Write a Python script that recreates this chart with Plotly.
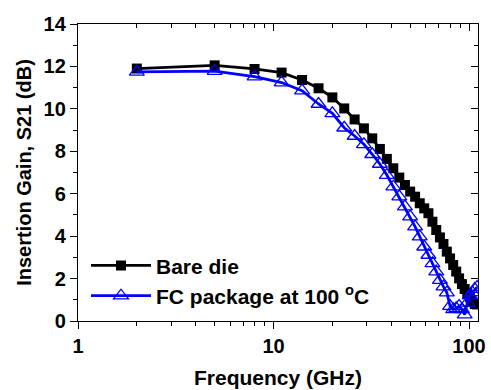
import plotly.graph_objects as go

freq_ghz = [2, 5, 8, 11, 14, 17, 20, 23, 26, 29, 32, 35, 38, 41, 44, 47, 50, 53, 56,
            59, 62, 65, 68, 71, 74, 77, 80, 83, 86, 89, 92, 95, 98, 101, 104, 107, 110]

bare_die_db = [11.9, 12.05, 11.88, 11.71, 11.36, 10.97, 10.54, 10.02, 9.5, 9.08, 8.61,
               8.11, 7.64, 7.2, 6.76, 6.41, 6.1, 5.86, 5.55, 5.31, 5.08, 4.68, 4.29,
               3.94, 3.63, 3.27, 2.95, 2.64, 2.33, 2.01, 1.74, 1.51, 1.3, 1.12, 0.91,
               0.8, 0.78]

fc_package_db = [11.74, 11.78, 11.52, 11.24, 10.86, 10.23, 9.79, 9.11, 8.72, 8.33, 7.86,
                 7.4, 6.88, 6.33, 5.86, 5.39, 4.92, 4.45, 3.98, 3.5, 3.11, 2.72, 2.33,
                 1.93, 1.62, 1.34, 0.7, 0.55, 0.6, 0.7, 0.55, 0.3, 0.85, 1.2, 1.35,
                 1.5, 1.6]

series_names = ["Bare die", "FC package at 100 <sup>o</sup>C"]
x_title = "Frequency (GHz)"
y_title = "Insertion Gain, S21 (dB)"
x_tickvals = [1, 10, 100]
x_minor_tickvals = [2, 3, 4, 5, 6, 7, 8, 9, 20, 30, 40, 50, 60, 70, 80, 90]
y_tickvals = [0, 2, 4, 6, 8, 10, 12, 14]

FONT = "Liberation Sans, Arial, sans-serif"

fig = go.Figure()
fig.add_trace(go.Scatter(
    x=freq_ghz, y=bare_die_db, name=series_names[0], mode="lines+markers",
    line=dict(color="black", width=2.8),
    marker=dict(symbol="square", size=10, color="black", line=dict(color="black", width=0)),
))
fig.add_trace(go.Scatter(
    x=freq_ghz, y=fc_package_db, name=series_names[1], mode="lines+markers",
    line=dict(color="#0000ff", width=2.8),
    marker=dict(symbol="triangle-up-open", size=13, color="#0000ff",
                line=dict(color="#0000ff", width=1.3)),
))
# carrier for the mirrored top/right axes
fig.add_trace(go.Scatter(x=[], y=[], xaxis="x2", yaxis="y2", showlegend=False,
                         hoverinfo="skip"))

xr = [0, 2.046]
yr = [0, 14]
fig.update_layout(
    width=491, height=390,
    margin=dict(l=78, r=13, t=24, b=69, autoexpand=False),
    paper_bgcolor="white", plot_bgcolor="white",
    font=dict(family=FONT, size=20, color="black", weight="bold"),
    showlegend=True,
    legend=dict(x=0.02, y=0.255, xanchor="left", yanchor="top",
                bgcolor="rgba(0,0,0,0)", font=dict(size=21, weight="bold"),
                itemwidth=60, tracegroupgap=0),
    xaxis=dict(type="log", range=xr, tickvals=x_tickvals,
               ticktext=[str(v) for v in x_tickvals], automargin=False,
               ticks="outside", ticklen=7, tickwidth=1.3, tickcolor="black",
               showline=True, linecolor="black", linewidth=1.3,
               showgrid=False, zeroline=False,
               minor=dict(tickvals=x_minor_tickvals, ticks="outside", ticklen=4,
                          tickwidth=1.2, tickcolor="black", showgrid=False),
               title=dict(text=x_title, font=dict(size=21, weight="bold"), standoff=14),
               tickfont=dict(size=20, weight="bold")),
    yaxis=dict(range=yr, tickvals=y_tickvals, automargin=False,
               ticks="outside", ticklen=7, tickwidth=1.3, tickcolor="black",
               showline=True, linecolor="black", linewidth=1.3,
               showgrid=False, zeroline=False,
               minor=dict(dtick=1, ticks="outside", ticklen=4, tickwidth=1.2,
                          tickcolor="black", showgrid=False),
               title=dict(text=y_title, font=dict(size=20, weight="bold"), standoff=6),
               tickfont=dict(size=20, weight="bold")),
    xaxis2=dict(type="log", range=xr, overlaying="x", side="top", tickvals=x_tickvals,
                showticklabels=False, ticks="inside", ticklen=7, tickwidth=1.3,
                tickcolor="black", showline=True, linecolor="black", linewidth=1.3,
                showgrid=False, zeroline=False, automargin=False,
                minor=dict(tickvals=x_minor_tickvals, ticks="inside", ticklen=4,
                           tickwidth=1.2, tickcolor="black", showgrid=False)),
    yaxis2=dict(range=yr, overlaying="y", side="right", tickvals=y_tickvals,
                showticklabels=False, ticks="inside", ticklen=7, tickwidth=1.3,
                tickcolor="black", showline=True, linecolor="black", linewidth=1.3,
                showgrid=False, zeroline=False, automargin=False,
                minor=dict(dtick=1, ticks="inside", ticklen=4, tickwidth=1.2,
                           tickcolor="black", showgrid=False)),
)

fig.write_html("out.html")
